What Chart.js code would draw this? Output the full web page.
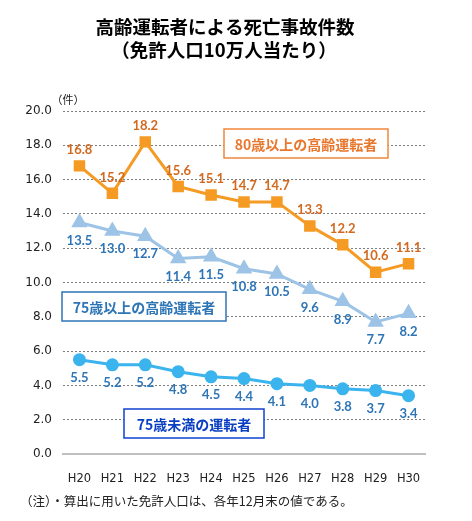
<!DOCTYPE html>
<html>
<head>
<meta charset="utf-8">
<script src="https://cdn.jsdelivr.net/npm/chart.js@4"></script>
<style>
  html, body { margin: 0; padding: 0; background: #fff; }
  #chartId { display: block; }
</style>
</head>
<body>
<canvas id="chartId" width="472" height="521"></canvas>
<script>
// data
var years = ["H20", "H21", "H22", "H23", "H24", "H25", "H26", "H27", "H28", "H29", "H30"];
var over80 = [16.8, 15.2, 18.2, 15.6, 15.1, 14.7, 14.7, 13.3, 12.2, 10.6, 11.1];
var over75 = [13.5, 13.0, 12.7, 11.4, 11.5, 10.8, 10.5, 9.6, 8.9, 7.7, 8.2];
var under75 = [5.5, 5.2, 5.2, 4.8, 4.5, 4.4, 4.1, 4.0, 3.8, 3.7, 3.4];
var yTicks = [0, 2, 4, 6, 8, 10, 12, 14, 16, 18, 20];

var jp = '"Noto Sans CJK JP", sans-serif';

// value labels, title, boxes, note
var extras = {
    id: 'extras',
    afterDatasetsDraw: function (chart) {
        var ctx = chart.ctx;
        var offs = [-16, 18, 18];
        var cols = ['#D2691E', '#2E75B6', '#2E75B6'];
        ctx.save();
        ctx.font = 'bold 13px Lato, sans-serif';
        ctx.textAlign = 'center';
        ctx.textBaseline = 'middle';
        chart.data.datasets.forEach(function (ds, i) {
            var meta = chart.getDatasetMeta(i);
            ctx.fillStyle = cols[i];
            meta.data.forEach(function (pt, j) {
                ctx.fillText(ds.data[j].toFixed(1), pt.x, pt.y + offs[i]);
            });
        });

        function box(txt, x, y, w, h, border, color) {
            ctx.fillStyle = '#fff';
            ctx.fillRect(x, y, w, h);
            ctx.strokeStyle = border;
            ctx.lineWidth = 1.5;
            ctx.strokeRect(x, y, w, h);
            ctx.fillStyle = color;
            ctx.font = 'bold 14px ' + jp;
            ctx.fillText(txt, x + w / 2, y + h / 2 + 1);
        }
        box('80歳以上の高齢運転者', 224, 129, 164, 29, '#F0873A', '#E8782E');
        box('75歳以上の高齢運転者', 62, 292, 164, 29, '#2E75B6', '#2E75B6');
        box('75歳未満の運転者', 124, 409, 140, 29, '#1040D0', '#0A3FC4');

        ctx.fillStyle = '#000';
        ctx.font = 'bold 18.5px ' + jp;
        ctx.fillText('高齢運転者による死亡事故件数', 225, 27);
        ctx.fillText('（免許人口10万人当たり）', 224, 50);

        ctx.font = '11px ' + jp;
        ctx.fillStyle = '#222';
        ctx.fillText('（件）', 68, 100);

        ctx.textAlign = 'left';
        ctx.font = '12.5px ' + jp;
        ctx.fillText('（注）・算出に用いた免許人口は、各年12月末の値である。', 20, 501);
        ctx.restore();
    }
};

var chrt = document.getElementById("chartId").getContext("2d");
var chartId = new Chart(chrt, {
    type: 'line',
    data: {
        labels: years,
        datasets: [{
            label: "80歳以上の高齢運転者",
            data: over80,
            borderColor: '#F59A23',
            backgroundColor: '#F59A23',
            borderWidth: 3,
            pointStyle: 'rect',
            pointRadius: 6,
        }, {
            label: "75歳以上の高齢運転者",
            data: over75,
            borderColor: '#9DC3E6',
            backgroundColor: '#9DC3E6',
            borderWidth: 3,
            pointStyle: 'triangle',
            pointRadius: 6.5,
        }, {
            label: "75歳未満の運転者",
            data: under75,
            borderColor: '#3BB4EE',
            backgroundColor: '#3BB4EE',
            borderWidth: 3,
            pointStyle: 'circle',
            pointRadius: 5,
        }],
    },
    options: {
        responsive: false,
        animation: false,
        layout: { padding: { left: 0, right: 47, top: 111, bottom: 0 } },
        plugins: {
            legend: { display: false },
            title: { display: false },
            tooltip: { enabled: false },
        },
        scales: {
            x: {
                offset: true,
                afterFit: function (s) { s.height = 67; },
                grid: { display: false },
                border: { display: true, color: '#BFBFBF', width: 2 },
                ticks: { color: '#222', font: { family: 'DejaVu Sans', size: 11.5 }, padding: 10 },
            },
            y: {
                min: 0,
                max: 20,
                afterFit: function (s) { s.width = 63; },
                afterBuildTicks: function (s) {
                    s.ticks = yTicks.map(function (v) { return { value: v }; });
                },
                grid: {
                    drawTicks: false,
                    color: function (c) { return c.tick.value === 0 ? '#BFBFBF' : '#7F7F7F'; },
                    lineWidth: function (c) { return c.tick.value === 0 ? 2 : 1; },
                },
                border: {
                    display: false,
                    dash: function (c) { return c.tick && c.tick.value === 0 ? [] : [2, 2]; },
                },
                ticks: {
                    color: '#222',
                    padding: 11,
                    font: { family: 'DejaVu Sans', size: 12 },
                    callback: function (v) { return v.toFixed(1); },
                },
            },
        },
    },
    plugins: [extras],
});
</script>
</body>
</html>
